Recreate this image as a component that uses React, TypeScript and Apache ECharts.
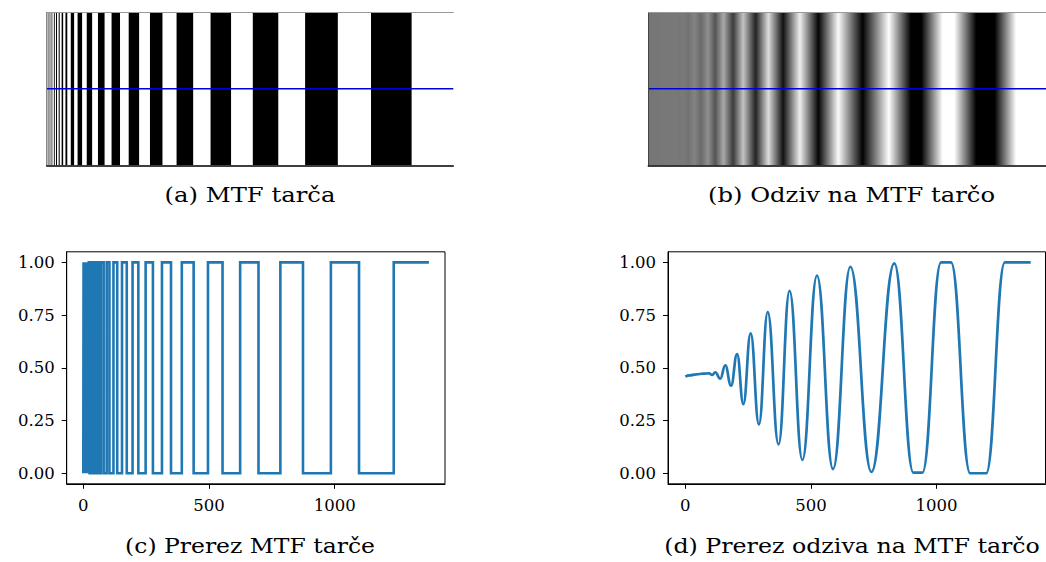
import React, { useEffect, useRef } from "react";
import * as echarts from "echarts";

// Positions (pixel columns of the target) where the MTF target switches black <-> white.
// The last segment (after the last edge) is white (1).
const edges: number[] = [
  1, 2, 3, 4, 5, 6, 7, 8, 9, 10, 11, 13, 14, 16, 18, 20, 22, 25, 28, 31, 35, 40, 44, 50, 56, 63, 70,
  81, 93, 104, 120, 135, 154, 173, 196, 219, 248, 277, 313, 349, 392, 439, 496, 554, 624, 697, 784,
  874, 985, 1097, 1235,
];
const xStart = 0;
const xEnd = 1375;

// Response (blurred) profile: local extrema / plateau ends
const respX: number[] = [
  0, 17, 44, 70, 94, 107, 119, 139, 159, 182, 206, 231, 260, 293, 328, 371, 415, 466, 524, 588, 657,
  741, 832, 908, 944, 1018, 1058, 1134, 1198, 1272, 1375,
];
const respY: number[] = [
  0.458, 0.464, 0.469, 0.472, 0.474, 0.466, 0.479, 0.448, 0.512, 0.415, 0.565, 0.328, 0.663, 0.232,
  0.764, 0.137, 0.865, 0.063, 0.937, 0.02, 0.979, 0.006, 0.995, 0.003, 0.003, 1.0, 1.0, 0.0, 0.0, 1.0,
  1.0,
];

const xTicks = [0, 500, 1000];
const yTicks = [0, 0.25, 0.5, 0.75, 1];

const captions = [
  "(a) MTF tarča",
  "(b) Odziv na MTF tarčo",
  "(c) Prerez MTF tarče",
  "(d) Prerez odziva na MTF tarčo",
];

const SERIF = '"DejaVu Serif", serif';
const LINE_BLUE = "#1f77b4";

function measure(text: string, size: number): number {
  const ctx = document.createElement("canvas").getContext("2d");
  if (!ctx) return text.length * size * 0.55;
  ctx.font = `${size}px "DejaVu Serif"`;
  return ctx.measureText(text).width;
}

export default function App() {
  const ref = useRef<HTMLDivElement>(null);

  useEffect(() => {
    if (!ref.current) return;
    const chart = echarts.init(ref.current, undefined, { renderer: "svg" });

    const N = edges.length;
    const bounds = [xStart - 0.5, ...edges, xEnd + 0.5];
    const segments: number[][] = [];
    for (let i = 0; i <= N; i++) {
      segments.push([bounds[i], bounds[i + 1], (N - i) % 2 === 0 ? 1 : 0]);
    }

    const stepData: number[][] = [];
    let lvl = segments[0][2];
    stepData.push([xStart, lvl]);
    for (const e of edges) {
      stepData.push([e, lvl]);
      lvl = 1 - lvl;
      stepData.push([e, lvl]);
    }
    stepData.push([xEnd, lvl]);

    const respData = respX.map((x, i) => [x, respY[i]]);

    const imgMin = xStart - 0.5;
    const imgMax = xEnd + 0.5;
    const gray = (v: number) => {
      const g = Math.round(Math.max(0, Math.min(1, v)) * 255);
      return `rgb(${g},${g},${g})`;
    };
    const gradStops = respX.map((x, i) => ({
      offset: Math.max(0, Math.min(1, (x - imgMin) / (imgMax - imgMin))),
      color: gray(respY[i]),
    }));

    const imgGrid = (left: number) => ({
      left,
      top: 12.3,
      width: 406.6,
      height: 153,
      containLabel: false,
    });
    const plotGrid = (left: number, width: number) => ({
      left,
      top: 251.8,
      width,
      height: 232,
      show: true,
      borderColor: "#000",
      borderWidth: 1,
      backgroundColor: "transparent",
      containLabel: false,
    });

    const imgXAxis = (gridIndex: number, position: string, color: string, width: number) => ({
      type: "value",
      gridIndex,
      position,
      min: imgMin,
      max: imgMax,
      z: 10,
      axisLine: { show: true, onZero: false, lineStyle: { color, width } },
      axisTick: { show: false },
      axisLabel: { show: false },
      splitLine: { show: false },
    });
    const imgYAxis = (gridIndex: number, color: string) => ({
      type: "value",
      gridIndex,
      min: 0,
      max: 1,
      z: 10,
      axisLine: { show: true, onZero: false, lineStyle: { color, width: 1 } },
      axisTick: { show: false },
      axisLabel: { show: false },
      splitLine: { show: false },
    });
    const plotXAxis = (gridIndex: number, min: number, max: number) => ({
      type: "value",
      gridIndex,
      min,
      max,
      axisLine: { show: true, onZero: false, lineStyle: { color: "#000", width: 1 } },
      axisTick: {
        show: true,
        length: 5,
        customValues: xTicks,
        lineStyle: { color: "#000", width: 1 },
      },
      axisLabel: {
        show: true,
        customValues: xTicks,
        margin: 13,
        fontFamily: SERIF,
        fontSize: 16.5,
        color: "#000",
        formatter: (v: number) => String(Math.round(v)),
      },
      splitLine: { show: false },
    });
    const plotYAxis = (gridIndex: number) => ({
      type: "value",
      gridIndex,
      min: -0.05,
      max: 1.05,
      axisLine: { show: true, onZero: false, lineStyle: { color: "#000", width: 1 } },
      axisTick: {
        show: true,
        length: 5,
        customValues: yTicks,
        lineStyle: { color: "#000", width: 1 },
      },
      axisLabel: {
        show: true,
        customValues: yTicks,
        margin: 12,
        fontFamily: SERIF,
        fontSize: 16.5,
        color: "#000",
        formatter: (v: number) => v.toFixed(2),
      },
      splitLine: { show: false },
    });

    const capSize = 21;
    const capTargets = [
      { cx: 250, cy: 195, w: 171 },
      { cx: 851.5, cy: 195, w: 287 },
      { cx: 250, cy: 545.5, w: 250 },
      { cx: 852, cy: 545.5, w: 376 },
    ];
    const graphics = captions.map((t, i) => {
      const m = measure(t, capSize);
      const s = m > 0 ? capTargets[i].w / m : 1;
      return {
        type: "text",
        x: capTargets[i].cx,
        y: capTargets[i].cy,
        scaleX: s,
        scaleY: 1,
        style: {
          text: t,
          fontFamily: SERIF,
          fontSize: capSize,
          fill: "#000",
          align: "center",
          verticalAlign: "middle",
          textAlign: "center",
          textVerticalAlign: "middle",
        },
      };
    });

    const option: any = {
      animation: false,
      backgroundColor: "#fff",
      grid: [imgGrid(46.7), imgGrid(648.3), plotGrid(66.7, 378.3), plotGrid(668, 377.5)],
      xAxis: [
        imgXAxis(0, "bottom", "#000", 1.5),
        imgXAxis(0, "top", "#999", 1),
        imgXAxis(1, "bottom", "#000", 1.5),
        imgXAxis(1, "top", "#999", 1),
        plotXAxis(2, -66, 1439),
        plotXAxis(3, -69, 1434),
      ],
      yAxis: [imgYAxis(0, "#888"), imgYAxis(1, "#444"), plotYAxis(2), plotYAxis(3)],
      series: [
        {
          type: "custom",
          xAxisIndex: 0,
          yAxisIndex: 0,
          silent: true,
          clip: true,
          data: segments,
          renderItem: (_p: any, api: any) => {
            const s = api.value(0);
            const e = api.value(1);
            const lv = api.value(2);
            const p0 = api.coord([s, 1]);
            const p1 = api.coord([e, 0]);
            return {
              type: "rect",
              shape: { x: p0[0], y: p0[1], width: p1[0] - p0[0], height: p1[1] - p0[1] },
              style: { fill: lv ? "#fff" : "#000" },
            };
          },
        },
        {
          type: "line",
          xAxisIndex: 0,
          yAxisIndex: 0,
          silent: true,
          symbol: "none",
          data: [
            [imgMin, 0.5],
            [imgMax, 0.5],
          ],
          lineStyle: { color: "#0000dd", width: 1.4 },
          z: 5,
        },
        {
          type: "custom",
          xAxisIndex: 2,
          yAxisIndex: 1,
          silent: true,
          clip: false,
          data: [[imgMin, imgMax]],
          renderItem: (_p: any, api: any) => {
            const p0 = api.coord([api.value(0), 1]);
            const p1 = api.coord([api.value(1), 0]);
            return {
              type: "rect",
              shape: { x: p0[0], y: p0[1], width: p1[0] - p0[0], height: p1[1] - p0[1] },
              style: {
                fill: new echarts.graphic.LinearGradient(0, 0, 1, 0, gradStops, false),
              },
            };
          },
        },
        {
          type: "line",
          xAxisIndex: 2,
          yAxisIndex: 1,
          silent: true,
          symbol: "none",
          data: [
            [imgMin, 0.5],
            [imgMax, 0.5],
          ],
          lineStyle: { color: "#0000dd", width: 1.4 },
          z: 5,
        },
        {
          type: "line",
          xAxisIndex: 4,
          yAxisIndex: 2,
          silent: true,
          symbol: "none",
          data: stepData,
          lineStyle: { color: LINE_BLUE, width: 2.6, join: "miter" },
        },
        {
          type: "line",
          xAxisIndex: 5,
          yAxisIndex: 3,
          silent: true,
          symbol: "none",
          smooth: 0.45,
          smoothMonotone: "x",
          data: respData,
          lineStyle: { color: LINE_BLUE, width: 2.7 },
        },
      ],
      graphic: graphics,
    };

    chart.setOption(option);
    return () => chart.dispose();
  }, []);

  return (
    <div
      ref={ref}
      style={{ position: "fixed", left: 0, top: 0, width: 1046, height: 562, background: "#fff" }}
    />
  );
}
